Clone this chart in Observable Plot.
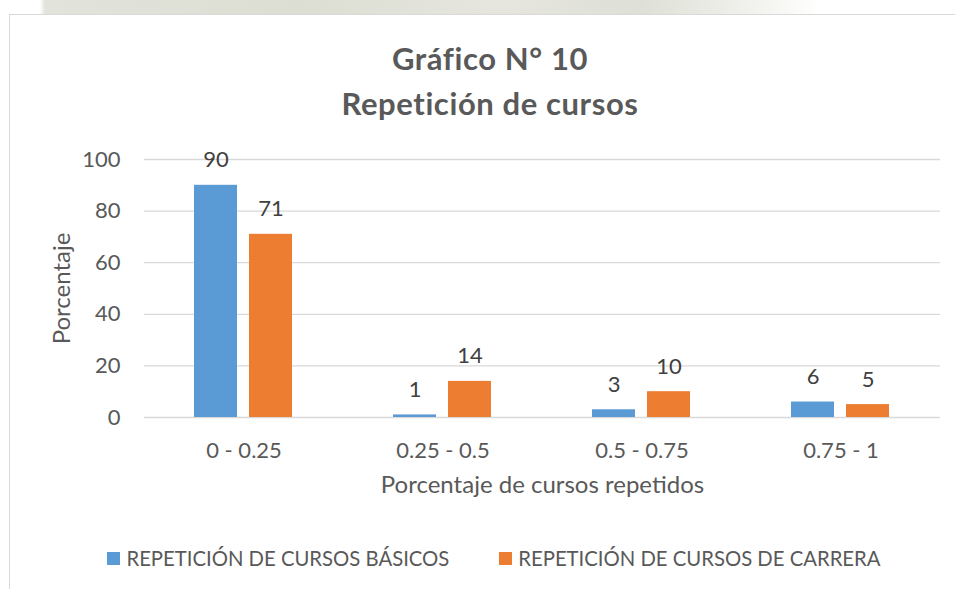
<!DOCTYPE html>
<html>
<head>
<meta charset="utf-8">
<script src="https://cdn.jsdelivr.net/npm/d3@7"></script>
<script src="https://cdn.jsdelivr.net/npm/@observablehq/plot@0.6"></script>
<style>
  html, body { margin: 0; padding: 0; background: #fff; }
  body { width: 955px; height: 589px; overflow: hidden; position: relative; font-family: Lato, sans-serif; }
  #strip { position: absolute; left: 0; top: 0; width: 955px; height: 14px;
    background: linear-gradient(90deg, #fff 0px, #fff 40px, #e2e3da 45px, #dcddd3 300px, #e6e6de 500px, #dedfd6 640px, #f3f3ef 760px, #fff 820px); }
  #frame { position: absolute; left: 9px; top: 14px; width: 980px; height: 600px;
    border-left: 1.5px solid #d9d9d9; border-top: 1.5px solid #d9d9d9; background: #fff; }
  #title { position: absolute; left: 10px; width: 960px; top: 35.5px; text-align: center;
    font-family: Lato, sans-serif; font-weight: bold; font-size: 31px; letter-spacing: 0.6px; line-height: 45px; color: #595959; }
  #chart { position: absolute; left: 0; top: 130px; }
  #legend { position: absolute; left: 0; width: 988px; top: 545px; display: flex; justify-content: center;
    font-family: Lato, sans-serif; font-size: 20.3px; color: #595959; line-height: 26px; }
  .item { display: flex; align-items: center; margin: 0 25px; white-space: nowrap; }
  .sw { width: 13px; height: 13px; margin-right: 6px; display: inline-block; }
</style>
</head>
<body>
<div id="strip"></div>
<div id="frame"></div>
<div id="title">Gráfico N° 10<br>Repetición de cursos</div>
<div id="chart"></div>
<div id="legend"></div>
<script>
const categories = ["0 - 0.25", "0.25 - 0.5", "0.5 - 0.75", "0.75 - 1"];
const seriesNames = ["REPETICIÓN DE CURSOS BÁSICOS", "REPETICIÓN DE CURSOS DE CARRERA"];
const basicos = [90, 1, 3, 6];
const carrera = [71, 14, 10, 5];
const seriesColors = ["#5B9BD5", "#ED7D31"];
const yTicks = [0, 20, 40, 60, 80, 100];
const yLabel = "Porcentaje";
const xLabel = "Porcentaje de cursos repetidos";

const data = [];
categories.forEach((c, i) => {
  data.push({category: c, series: seriesNames[0], value: basicos[i]});
  data.push({category: c, series: seriesNames[1], value: carrera[i]});
});

const chart = Plot.plot({
  width: 955,
  height: 380,
  marginLeft: 143,
  marginRight: 14,
  marginTop: 29,
  marginBottom: 93,
  style: {fontFamily: "Lato, sans-serif", fontSize: "22px", color: "#595959", background: "transparent", overflow: "visible"},
  fx: {domain: categories, padding: 0},
  x: {domain: seriesNames, paddingInner: 0.214, paddingOuter: 0.888, axis: null},
  y: {domain: [0, 100]},
  color: {domain: seriesNames, range: seriesColors},
  marks: [
    Plot.ruleY(yTicks, {stroke: "#d9d9d9", strokeWidth: 1.3}),
    Plot.axisY({ticks: yTicks, tickSize: 0, tickPadding: 24, label: null, fontSize: 22}),
    Plot.axisY({ticks: yTicks, tickSize: 0, tickFormat: () => "", label: yLabel, labelAnchor: "center", labelArrow: "none", labelOffset: 92, fontSize: 24}),
    Plot.axisFx({anchor: "bottom", tickSize: 0, tickPadding: 25, label: null, fontSize: 22}),
    Plot.axisFx({anchor: "bottom", tickSize: 0, tickFormat: () => "", label: xLabel, labelAnchor: "center", labelArrow: "none", labelOffset: 75, fontSize: 24}),
    Plot.barY(data, {fx: "category", x: "series", y: "value", fill: "series"}),
    Plot.text(data, {fx: "category", x: "series", y: "value", text: d => String(d.value), dy: -18, lineAnchor: "bottom", fill: "#404040", fontSize: 22})
  ]
});
document.getElementById("chart").appendChild(chart);

const legend = document.getElementById("legend");
seriesNames.forEach((s, i) => {
  const it = document.createElement("div");
  it.className = "item";
  const sw = document.createElement("span");
  sw.className = "sw";
  sw.style.background = seriesColors[i];
  it.appendChild(sw);
  it.appendChild(document.createTextNode(s));
  legend.appendChild(it);
});
</script>
</body>
</html>
